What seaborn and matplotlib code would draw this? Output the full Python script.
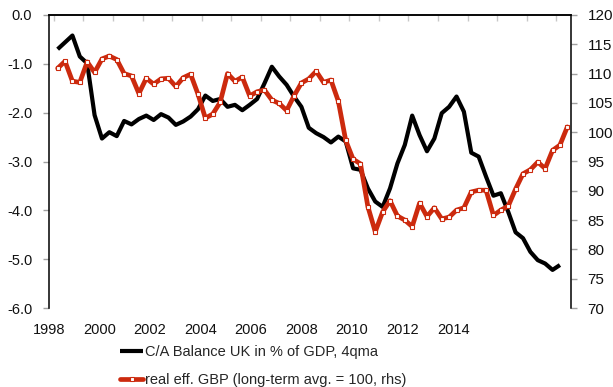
import numpy as np
import pandas as pd
import matplotlib
matplotlib.use("Agg")
import matplotlib.pyplot as plt
import seaborn as sns

# Quarterly observations, 1998Q1 - 2015Q2
quarters = pd.period_range("1998Q1", "2015Q2", freq="Q").astype(str).tolist()

# UK current account balance, % of GDP, 4-quarter moving average (1998Q1 - 2015Q1)
ca_balance = [
    -0.70, -0.56, -0.42, -0.85, -0.99, -2.05, -2.53, -2.40, -2.48, -2.17,
    -2.24, -2.13, -2.06, -2.15, -2.03, -2.10, -2.25, -2.18, -2.08, -1.93,
    -1.65, -1.76, -1.72, -1.88, -1.84, -1.95, -1.84, -1.72, -1.40, -1.06,
    -1.26, -1.43, -1.67, -1.88, -2.31, -2.42, -2.50, -2.61, -2.49, -2.59,
    -3.14, -3.17, -3.55, -3.82, -3.93, -3.55, -3.04, -2.66, -2.06, -2.46,
    -2.79, -2.53, -2.01, -1.88, -1.67, -1.98, -2.82, -2.90, -3.31, -3.70,
    -3.65, -4.03, -4.45, -4.57, -4.85, -5.02, -5.09, -5.22, -5.12,
]

# Real effective GBP exchange rate, long-term average = 100 (1998Q1 - 2015Q2)
real_eff_gbp = [
    110.9, 112.1, 108.7, 108.5, 112.0, 110.2, 112.5, 113.0, 112.4, 110.0,
    109.6, 106.6, 109.2, 108.2, 109.1, 109.2, 107.8, 109.3, 109.9, 106.5,
    102.4, 103.1, 105.1, 110.0, 108.7, 109.4, 106.2, 106.9, 107.2, 105.5,
    104.9, 103.7, 106.2, 108.4, 109.1, 110.4, 108.5, 108.9, 105.3, 98.6,
    95.4, 94.6, 87.3, 83.0, 86.4, 88.3, 85.7, 85.0, 83.9, 87.9,
    85.6, 87.1, 85.2, 85.5, 86.7, 87.1, 89.8, 90.1, 90.1, 85.8,
    86.7, 87.4, 90.3, 92.9, 93.6, 94.9, 93.8, 96.9, 97.8, 100.9,
]

year_labels = ["1998", "2000", "2002", "2004", "2006", "2008", "2010", "2012", "2014"]
left_ticks = [0.0, -1.0, -2.0, -3.0, -4.0, -5.0, -6.0]
right_ticks = [120, 115, 110, 105, 100, 95, 90, 85, 80, 75, 70]

ca_label = "C/A Balance UK in % of GDP, 4qma"
gbp_label = "real eff. GBP (long-term avg. = 100, rhs)"

RED = "#CC2A0E"
TICK_GREY = "#A0A0A0"

sns.set_style("white")
plt.rcParams["font.family"] = ["Liberation Sans", "DejaVu Sans"]
plt.rcParams["font.size"] = 10.5

df_ca = pd.DataFrame({"q": np.arange(len(ca_balance)), "value": ca_balance})
df_gbp = pd.DataFrame({"q": np.arange(len(real_eff_gbp)), "value": real_eff_gbp})

fig = plt.figure(figsize=(6.13, 3.87), dpi=100)
ax = fig.add_axes([49 / 613, 1 - 308 / 387, (571 - 49) / 613, 293 / 387])

sns.lineplot(data=df_ca, x="q", y="value", ax=ax, color="black",
             linewidth=3.0, solid_joinstyle="round", solid_capstyle="butt",
             label=ca_label, legend=False)

ax2 = ax.twinx()
sns.lineplot(data=df_gbp, x="q", y="value", ax=ax2, color=RED,
             linewidth=3.4, solid_joinstyle="round", marker="s",
             markersize=3.4, markerfacecolor="white", markeredgecolor=RED,
             markeredgewidth=0.8, label=gbp_label, legend=False)

n_cat = len(quarters)
ax.set_xlim(-0.5, n_cat - 0.5)
ax.set_ylim(-6, 0)
ax2.set_ylim(70, 120)

# Left axis
ax.set_yticks(left_ticks)
ax.set_yticklabels([f"{v:.1f}" for v in left_ticks])
ax.tick_params(axis="y", which="major", direction="out", length=4,
               color=TICK_GREY, width=1, pad=8, labelsize=10.5, labelcolor="#111111")
ax.set_ylabel("")
ax.set_xlabel("")

# Right axis
ax2.set_yticks(right_ticks)
ax2.set_yticklabels([str(v) for v in right_ticks])
ax2.tick_params(axis="y", which="major", direction="out", length=4,
                color=TICK_GREY, width=1, pad=8, labelsize=11, labelcolor="#111111")
ax2.set_ylabel("")
ax2.set_xlabel("")

# Category axis: year marks along the zero line, year labels below the plot
step_px = (571 - 49) / n_cat
label_pos = [(44 - 49) / step_px - 0.5 + k * (51 / step_px) for k in range(len(year_labels))]
ax.set_xticks(label_pos)
ax.set_xticklabels(year_labels)
ax.set_xticks(np.arange(-0.5, n_cat - 0.5, 4), minor=True)
ax.tick_params(axis="x", which="major", bottom=True, top=False, length=0,
               pad=11, labelsize=10.5, labelcolor="#111111")
ax.tick_params(axis="x", which="minor", bottom=False, top=True, direction="in",
               length=4, color="#C8C8C8", width=1)
ax2.tick_params(axis="x", which="both", top=False, bottom=False)

for a in (ax, ax2):
    a.grid(False)
    a.spines["bottom"].set_visible(False)
    for side in ("left", "right", "top"):
        a.spines[side].set_color("black")
        a.spines[side].set_linewidth(1.1)
ax.spines["right"].set_visible(False)
ax2.spines["left"].set_visible(False)

h1, l1 = ax.get_legend_handles_labels()
h2, l2 = ax2.get_legend_handles_labels()
fig.legend(h1 + h2, l1 + l2, loc="upper left",
           bbox_to_anchor=(120 / 613, 1 - 345 / 387), frameon=False,
           fontsize=10.5, handlelength=1.6, handletextpad=0.1,
           labelspacing=0.95, borderpad=0, borderaxespad=0)

fig.savefig("out.png", dpi=100)
